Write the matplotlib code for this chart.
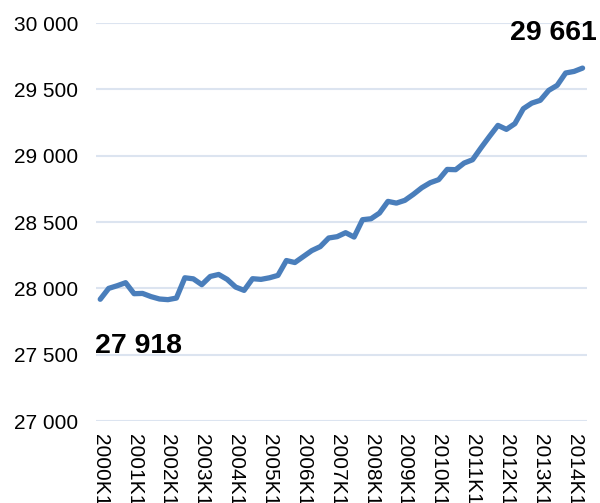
#!/usr/bin/env python3

import matplotlib
matplotlib.use("Agg")
import matplotlib.pyplot as plt
from matplotlib.ticker import FuncFormatter, MultipleLocator

# quarterly values, 2000K1 .. 2014K2
years = list(range(2000, 2015))
quarters = [f"{y}K{q}" for y in years for q in range(1, 5)][:58]
values = [
    27918, 28000, 28020, 28043, 27960, 27962, 27938, 27920,
    27915, 27927, 28080, 28072, 28028, 28090, 28105, 28068,
    28010, 27985, 28073, 28068, 28080, 28098, 28210, 28195,
    28240, 28285, 28315, 28380, 28390, 28420, 28387, 28518,
    28525, 28568, 28656, 28643, 28664, 28709, 28759, 28797,
    28820, 28897, 28895, 28945, 28970, 29060, 29146, 29229,
    29199, 29242, 29355, 29397, 29418, 29493, 29531, 29624,
    29636, 29661,
]
tick_labels = quarters[::4]

plt.rcParams['font.family'] = ['Liberation Sans', 'DejaVu Sans']


def space_thousands(v, pos):
    return f"{v:,.0f}".replace(",", " ")


def plot_chart():
    fig = plt.figure(figsize=(6.0, 5.03), dpi=100)
    ax = fig.add_axes([0.16, 0.163, 0.818, 0.791])

    x = list(range(len(values)))
    ax.plot(x, values, color='#4a7ebb', linewidth=3.8, solid_capstyle='round',
            solid_joinstyle='round', zorder=3)

    ax.set_xlim(-0.5, len(values) - 0.5)
    ax.set_ylim(27000, 30000)
    ax.yaxis.set_major_locator(MultipleLocator(500))
    ax.yaxis.set_major_formatter(FuncFormatter(space_thousands))
    ax.set_xticks(x[::4])
    ax.set_xticklabels(tick_labels, rotation=270, ha='center', va='top')

    ax.tick_params(axis='both', length=0, labelsize=15, colors='black')
    ax.tick_params(axis='y', pad=13)
    ax.tick_params(axis='x', pad=9)
    ax.grid(axis='y', color='#dce4f0', linewidth=1.5, zorder=0)
    for s in ax.spines.values():
        s.set_visible(False)

    ax.annotate(space_thousands(values[0], None), xy=(0, values[0]),
                xytext=(-5, -34), textcoords='offset pixels',
                ha='left', va='top', fontsize=20.5, fontweight='bold')
    ax.annotate(space_thousands(values[-1], None), xy=(len(values) - 1, values[-1]),
                xytext=(14, 28), textcoords='offset pixels',
                ha='right', va='baseline', fontsize=20.5, fontweight='bold',
                annotation_clip=False)

    fig.savefig('out.png', dpi=100)


if __name__ == "__main__":
    plot_chart()
